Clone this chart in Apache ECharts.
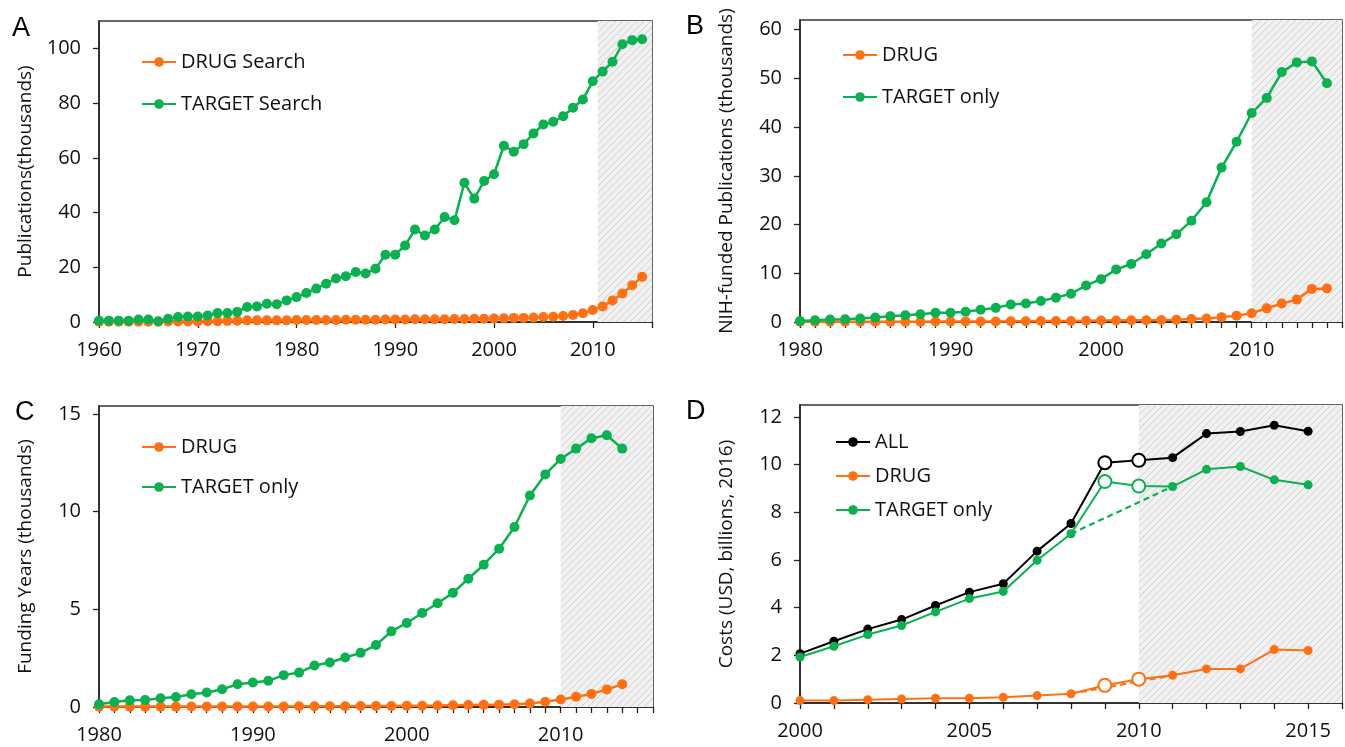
<!DOCTYPE html>
<html><head><meta charset="utf-8">
<script src="https://cdn.jsdelivr.net/npm/echarts@6/dist/echarts.min.js"></script>
<style>html,body{margin:0;padding:0;background:#fff}#c{width:1345px;height:747px}</style>
</head><body><div id="c"></div>
<script>
// ---------- DATA ----------
const yearsA = [1960,1961,1962,1963,1964,1965,1966,1967,1968,1969,1970,1971,1972,1973,1974,1975,1976,1977,1978,1979,1980,1981,1982,1983,1984,1985,1986,1987,1988,1989,1990,1991,1992,1993,1994,1995,1996,1997,1998,1999,2000,2001,2002,2003,2004,2005,2006,2007,2008,2009,2010,2011,2012,2013,2014,2015];
const targetA = [0.5,0.5,0.5,0.5,0.9,0.9,0.3,1.2,1.8,2.0, 2.0,2.4,3.3,3.3,3.7,5.5,5.7,6.7,6.5,7.9, 9.1,10.6,12.2,14.0,15.9,16.7,18.3,17.7,19.5,24.6, 24.6,28.0,33.8,31.6,33.8,38.4,37.2,50.9,45.1,51.5, 54.0,64.4,62.2,65.0,68.9,72.2,73.2,75.2,78.3,81.3, 88.0,91.5,95.1,101.5,103.0,103.3];
const drugA = [0.1,0.1,0.1,0.1,0.1,0.1,0.1,0.2,0.2,0.2, 0.2,0.3,0.3,0.4,0.5,0.6,0.6,0.6,0.6,0.6, 0.7,0.7,0.7,0.7,0.7,0.8,0.8,0.8,0.8,0.9, 0.9,0.9,1.0,1.0,1.0,1.0,1.1,1.1,1.2,1.2, 1.3,1.4,1.5,1.5,1.6,1.8,1.9,2.2,2.6,3.2, 4.4,5.7,7.9,10.4,13.4,16.5];

const yearsB = [1980,1981,1982,1983,1984,1985,1986,1987,1988,1989,1990,1991,1992,1993,1994,1995,1996,1997,1998,1999,2000,2001,2002,2003,2004,2005,2006,2007,2008,2009,2010,2011,2012,2013,2014,2015];
const targetB = [0.2,0.35,0.5,0.55,0.7,0.9,1.2,1.4,1.6,1.9, 1.9,2.1,2.5,2.9,3.6,3.8,4.3,5.0,5.8,7.5, 8.8,10.8,11.9,13.9,16.1,18.0,20.8,24.6,31.7,37.0, 42.9,46.0,51.3,53.3,53.5,49.0];
const drugB = [0.05,0.05,0.05,0.05,0.05,0.05,0.05,0.05,0.05,0.1, 0.1,0.1,0.1,0.1,0.15,0.15,0.2,0.2,0.2,0.25, 0.3,0.3,0.35,0.35,0.4,0.45,0.6,0.7,1.0,1.3, 1.8,2.8,3.8,4.6,6.8,6.9];

const yearsC = [1980,1981,1982,1983,1984,1985,1986,1987,1988,1989,1990,1991,1992,1993,1994,1995,1996,1997,1998,1999,2000,2001,2002,2003,2004,2005,2006,2007,2008,2009,2010,2011,2012,2013,2014];
const targetC = [0.14,0.26,0.34,0.36,0.45,0.51,0.65,0.74,0.91,1.16, 1.25,1.34,1.63,1.76,2.12,2.28,2.53,2.77,3.17,3.87, 4.3,4.81,5.31,5.84,6.56,7.28,8.1,9.21,10.82,11.9, 12.69,13.22,13.75,13.9,13.22];
const drugC = [0.02,0.02,0.02,0.02,0.02,0.02,0.03,0.03,0.03,0.03, 0.03,0.03,0.03,0.04,0.04,0.04,0.04,0.05,0.05,0.05, 0.06,0.06,0.08,0.09,0.1,0.11,0.12,0.14,0.18,0.27, 0.38,0.52,0.67,0.9,1.16];

const yearsD = [2000,2001,2002,2003,2004,2005,2006,2007,2008,2009,2010,2011,2012,2013,2014,2015];
const allD = [2.07,2.59,3.1,3.5,4.09,4.65,5.0,6.37,7.53,10.08,10.18,10.29,11.3,11.39,11.65,11.4];
const targetD = [1.93,2.38,2.87,3.25,3.82,4.38,4.68,5.99,7.1,9.29,9.1,9.08,9.8,9.92,9.36,9.15];
const drugD = [0.1,0.1,0.14,0.17,0.2,0.2,0.24,0.31,0.39,0.74,1.0,1.16,1.43,1.43,2.24,2.2];
const openYearsD = [2009, 2010];
const dashFromYear = 2008, dashToYear = 2011;

// tick labels
const yTicksA = [0,20,40,60,80,100];
const yTicksB = [0,10,20,30,40,50,60];
const yTicksC = [0,5,10,15];
const yTicksD = [0,2,4,6,8,10,12];

// ---------- STYLE ----------
const FONT = 'Open Sans';
const ORANGE = '#FF7014', GREEN = '#0BB050', BLACK = '#000000';

const pc = document.createElement('canvas');
pc.width = 7; pc.height = 7;
(function(){
  const g = pc.getContext('2d');
  g.fillStyle = '#f1f1f1'; g.fillRect(0,0,7,7);
  g.strokeStyle = '#d2d2d2'; g.lineWidth = 1;
  g.beginPath();
  g.moveTo(-1,8); g.lineTo(8,-1);
  g.moveTo(-1,1); g.lineTo(1,-1);
  g.moveTo(6,8); g.lineTo(8,6);
  g.stroke();
})();
const hatch = {image: pc, repeat: 'repeat'};

const grids = [
  {left:99, top:21, width:553, height:301},
  {left:800, top:20, width:548, height:302},
  {left:99, top:406, width:554, height:301},
  {left:800, top:405, width:545, height:298}
].map(g => Object.assign({show:true, borderColor:'#333', borderWidth:1.5, backgroundColor:'transparent'}, g));

function xAx(gi, min, max, interval, step) {
  return {type:'value', gridIndex:gi, min:min, max:max, interval:interval,
    axisLine:{lineStyle:{color:'#222', width:1.5}},
    axisTick:{length:6, lineStyle:{color:'#222', width:1.3}},
    splitLine:{show:false},
    axisLabel:{color:'#111', fontSize:20, fontFamily:FONT, margin:18,
      formatter: v => (Math.abs(v % step) < 1e-9 ? String(v) : '')}};
}
function yAx(gi, max, interval, ticks, name) {
  return {type:'value', gridIndex:gi, min:0, max:max, interval:interval,
    name:name, nameLocation:'middle', nameGap:64,
    nameTextStyle:{fontSize:19, fontFamily:FONT, color:'#111'},
    axisLine:{show:true, lineStyle:{color:'#222', width:1.5}},
    axisTick:{show:true, length:6, customValues:ticks, lineStyle:{color:'#222', width:1.3}},
    splitLine:{show:false},
    axisLabel:{color:'#111', fontSize:20, fontFamily:FONT, margin:18, customValues:ticks,
      formatter: v => (Math.abs(v % interval) < 1e-9 ? String(v) : '')}};
}
function zip(xs, ys) { return xs.map((x,i) => [x, ys[i]]); }
function line(name, gi, xs, ys, color, extra) {
  return Object.assign({type:'line', name:name, xAxisIndex:gi, yAxisIndex:gi,
    data: zip(xs, ys), symbol:'circle', symbolSize:10, showSymbol:true,
    lineStyle:{color:color, width:2.5}, itemStyle:{color:color},
    emphasis:{disabled:true}, animation:false, z:3}, extra || {});
}
function shade(from, to) {
  return {silent:true, itemStyle:{color:hatch, borderWidth:0}, data:[[{xAxis:from},{xAxis:to}]]};
}
function dDataWithOpen(ys) {
  return yearsD.map((x,i) => openYearsD.indexOf(x) >= 0
    ? {value:[x, ys[i]], symbol:'emptyCircle', symbolSize:13, itemStyle:{borderWidth:1.6}}
    : [x, ys[i]]);
}
function dashed(gi, xs, ys, color) {
  const a = xs.indexOf(dashFromYear), b = xs.indexOf(dashToYear);
  return {type:'line', name:'dash', xAxisIndex:gi, yAxisIndex:gi,
    data:[[xs[a], ys[a]], [xs[b], ys[b]]], symbol:'none',
    lineStyle:{color:color, width:2.2, type:[6,4]}, emphasis:{disabled:true}, animation:false, z:2};
}

const series = [
  line('DRUG Search', 0, yearsA, drugA, ORANGE, {markArea: shade(2010.5, 2016)}),
  line('TARGET Search', 0, yearsA, targetA, GREEN),
  line('DRUG', 1, yearsB, drugB, ORANGE, {markArea: shade(2010, 2016)}),
  line('TARGET only', 1, yearsB, targetB, GREEN),
  line('DRUG', 2, yearsC, drugC, ORANGE, {markArea: shade(2010, 2016)}),
  line('TARGET only', 2, yearsC, targetC, GREEN),
  dashed(3, yearsD, targetD, GREEN),
  dashed(3, yearsD, drugD, ORANGE),
  line('ALL', 3, yearsD, allD, BLACK, {data: dDataWithOpen(allD), symbolSize:9, lineStyle:{color:BLACK, width:2}, markArea: shade(2010, 2016)}),
  line('DRUG', 3, yearsD, drugD, ORANGE, {data: dDataWithOpen(drugD), symbolSize:9, lineStyle:{color:ORANGE, width:2}}),
  line('TARGET only', 3, yearsD, targetD, GREEN, {data: dDataWithOpen(targetD), symbolSize:9, lineStyle:{color:GREEN, width:2}})
];

const legText = {fontSize:20, fontFamily:FONT, color:'#111', lineHeight:20};
function leg(data, left, top, gap) {
  return {data:data, left:left, top:top, orient:'vertical', itemWidth:34, itemHeight:12,
    itemGap:gap, selectedMode:false, textStyle:legText, padding:0};
}

const letter = (t, x, y) => ({type:'text', x:x, y:y,
  style:{text:t, fontSize:27, fontFamily:'Liberation Sans', fill:'#000', verticalAlign:'middle', align:'left'}});

const option = {
  animation:false,
  grid: grids,
  xAxis: [xAx(0,1960,2016,10,10), xAx(1,1980,2016,1,10), xAx(2,1980,2016,1,10), xAx(3,2000,2016,1,5)],
  yAxis: [yAx(0,110,20,yTicksA,'Publications(thousands)'), yAx(1,62,10,yTicksB,'NIH-funded Publications (thousands)'),
          yAx(2,15.4,5,yTicksC,'Funding Years (thousands)'), yAx(3,12.5,2,yTicksD,'Costs (USD, billions, 2016)')],
  legend: [leg(['DRUG Search','TARGET Search'], 141, 52, 22),
           leg(['DRUG','TARGET only'], 842, 45, 22),
           leg(['DRUG','TARGET only'], 141, 437, 20),
           leg(['ALL','DRUG','TARGET only'], 835, 432, 14)],
  graphic: [letter('A', 12, 29), letter('B', 686, 27), letter('C', 15, 413), letter('D', 686, 412)],
  series: series
};
const chart = echarts.init(document.getElementById('c'), null, {renderer:'canvas'});
chart.setOption(option);
</script></body></html>
